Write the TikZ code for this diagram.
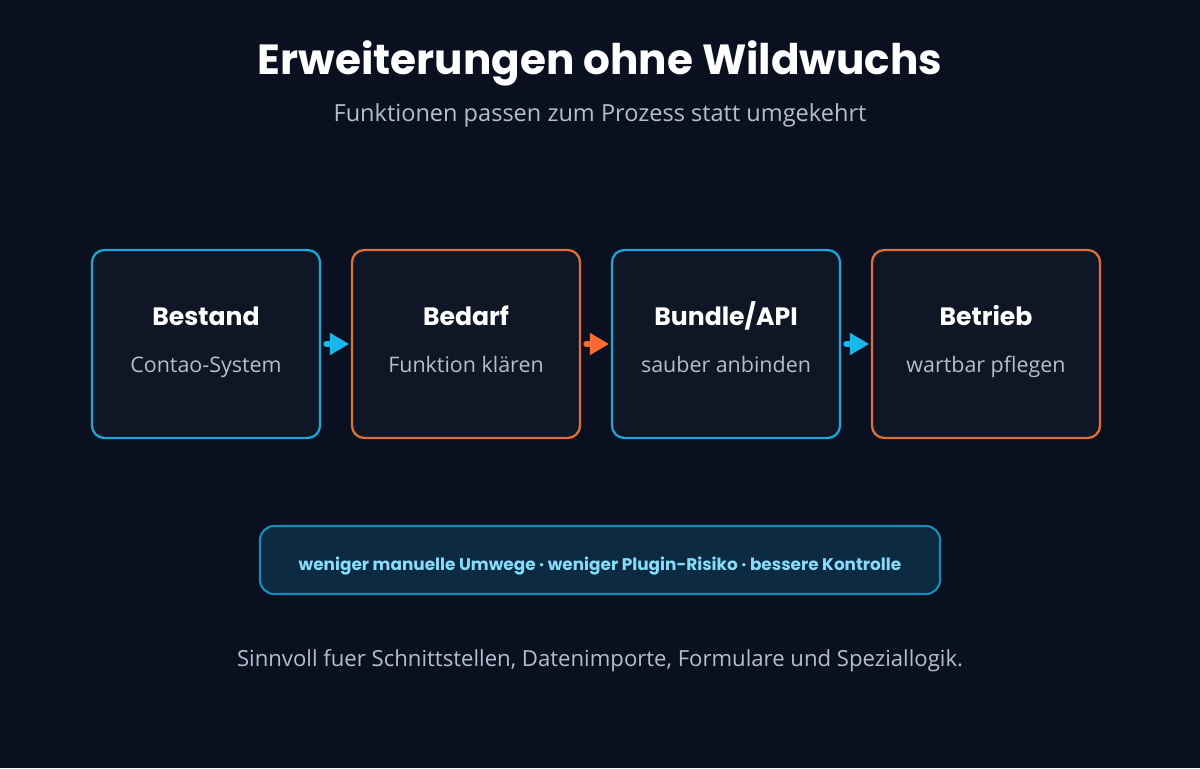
\documentclass[tikz,border=0pt]{standalone}
\usepackage{fontspec}
\setmainfont{Open Sans}
\newfontfamily\pop{Poppins}[UprightFont=* Bold]
\usetikzlibrary{arrows.meta}
\definecolor{bg}{HTML}{0A1020}
\definecolor{boxbg}{HTML}{0F1626}
\definecolor{cy}{HTML}{1AA6D6}
\definecolor{og}{HTML}{E0703A}
\definecolor{cyA}{HTML}{19B8EC}
\definecolor{ogA}{HTML}{FF6A30}
\definecolor{sub}{HTML}{B4BFCE}
\definecolor{pillbg}{HTML}{0C2A42}
\definecolor{pilltx}{HTML}{86DCFA}
\tikzset{
  card/.style={draw=#1, line width=1.3pt, fill=boxbg, rounded corners=7pt, minimum width=228*0.02cm, minimum height=188*0.02cm, inner sep=0},
  ttl/.style={text=white, font=\pop\fontsize{14.3}{17}\selectfont, text height=1.4ex, text depth=0pt},
  stx/.style={text=sub, font=\fontsize{12.2}{14}\selectfont, text height=1.4ex, text depth=0pt},
  flow/.style={draw=#1, line width=3.2pt, line cap=round, -{Triangle[length=11pt,width=12pt,fill=#1]}, shorten >=-2pt}
}
\begin{document}
\begin{tikzpicture}[x=0.02cm,y=-0.02cm]
\fill[bg] (0,0) rectangle (1200,768);
\useasboundingbox (0,0) rectangle (1200,768);
\node[text=white, font=\pop\fontsize{24}{28}\selectfont] (title) at (600,63) {Erweiterungen ohne Wildwuchs};
\node[text=sub, font=\fontsize{13.4}{16}\selectfont, text height=1.4ex, text depth=0pt] (subt) at (600,115) {Funktionen passen zum Prozess statt umgekehrt};
\foreach \n/\x/\c/\a/\b in {b1/206/cy/Bestand/Contao-System, b2/466/og/Bedarf/Funktion klären, b3/726/cy/Bundle\slash API/sauber anbinden, b4/986/og/Betrieb/wartbar pflegen}{
  \node[card=\c] (\n) at (\x,344) {};
  \node[ttl] (\n t) at (\x,319) {\a};
  \node[stx] (\n s) at (\x,366) {\b};
}
\draw[flow=cyA] (b1.east) ++(5,0) coordinate (a1) -- ([xshift=-3pt]b2.west);
\draw[flow=ogA] (b2.east) ++(5,0) coordinate (a2) -- ([xshift=-3pt]b3.west);
\draw[flow=cyA] (b3.east) ++(5,0) coordinate (a3) -- ([xshift=-3pt]b4.west);
\node[draw=cy!85!black, line width=1.2pt, fill=pillbg, rounded corners=8pt, minimum width=680*0.02cm, minimum height=68*0.02cm] (pill) at (600,560) {};
\node[text=pilltx, font=\pop\fontsize{9.6}{12}\selectfont, text height=1.4ex, text depth=0pt] (pillt) at (600,564) {weniger manuelle Umwege · weniger Plugin-Risiko · bessere Kontrolle};
\node[text=sub, font=\fontsize{12.6}{15}\selectfont, text height=1.4ex, text depth=0pt] (foot) at (600,660) {Sinnvoll fuer Schnittstellen, Datenimporte, Formulare und Speziallogik.};
\end{tikzpicture}
\end{document}
